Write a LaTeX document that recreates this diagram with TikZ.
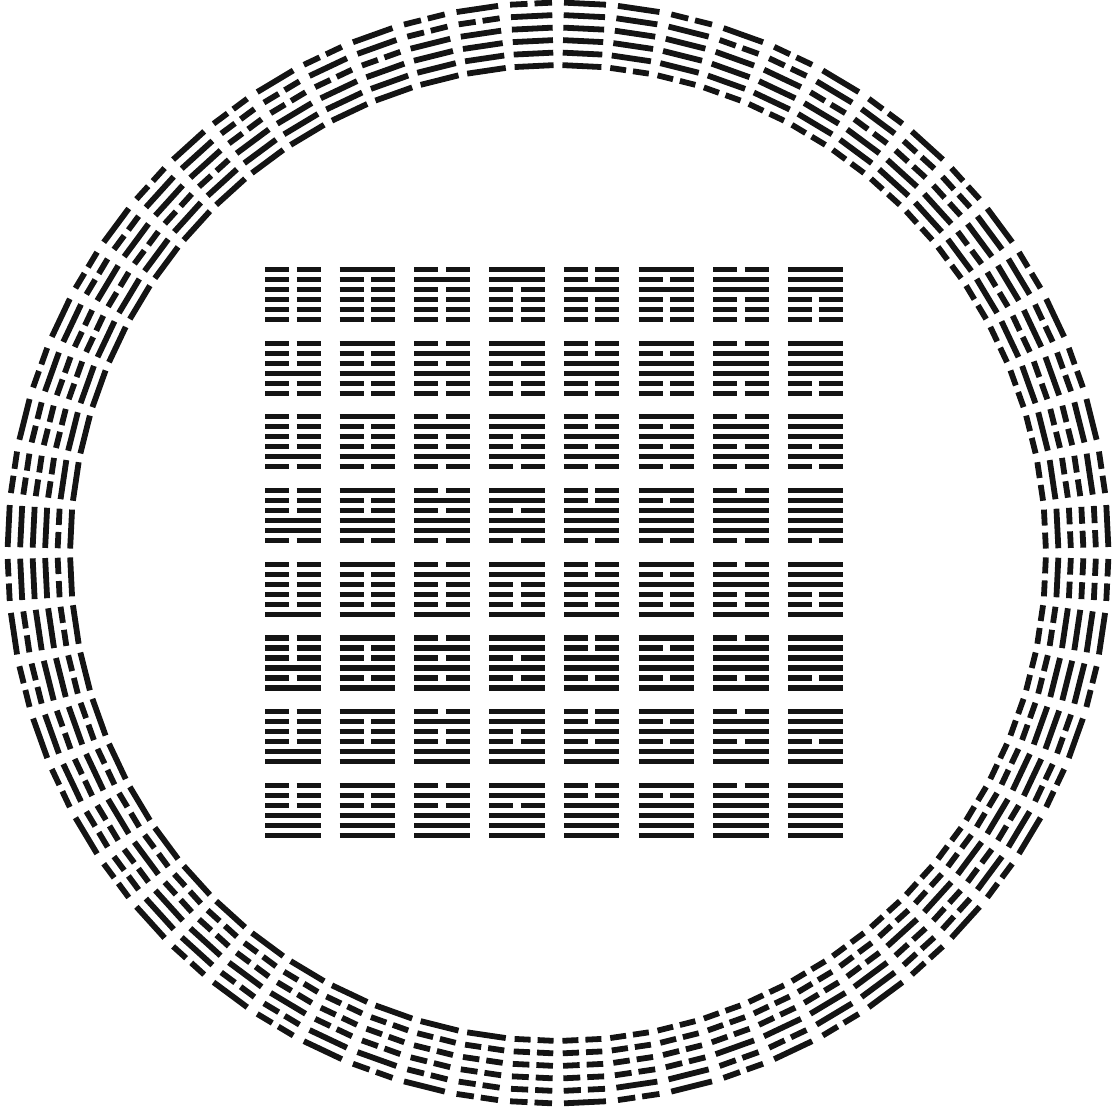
\documentclass[tikz,border=0pt]{standalone}
\usepackage{tikz}
\tikzset{
  yaoline/.style={line width=5.2pt, line cap=butt, draw=black!92},
  ringline/.style={line width=5.8pt, line cap=butt, draw=black!92},
}
\begin{document}
\begin{tikzpicture}[x=1pt,y=1pt]
\useasboundingbox (0,0) rectangle (1118,1107);
% ---------- ring of 64 hexagrams ----------
\foreach \k in {0,...,63}{
  \pgfmathtruncatemacro{\n}{\k<32 ? 63-\k : \k-32}
  \pgfmathsetmacro{\th}{87.1875+5.625*\k-90}
  \begin{scope}[shift={(558,554)}, rotate=\th]
  \foreach \i in {1,...,6}{
    \pgfmathtruncatemacro{\b}{mod(floor(\n/2^(6-\i)),2)}
    \pgfmathsetmacro{\R}{487.5+12.5*(\i-1)}
    \pgfmathsetmacro{\L}{19.5+0.3*(\i-1)}
    \ifnum\b=1
      \draw[ringline] (-\L,\R) -- (\L,\R);
    \else
      \draw[ringline] (-\L,\R) -- (-3.5,\R);
      \draw[ringline] (3.5,\R) -- (\L,\R);
    \fi
  }
  \end{scope}
}
% ---------- square of 64 hexagrams ----------
\foreach \r in {0,...,7}{
  \foreach \c in {0,...,7}{
    \pgfmathtruncatemacro{\n}{8*\r+\c}
    \pgfmathsetmacro{\xa}{265+74.7*\c}
    \pgfmathsetmacro{\xb}{\xa+55.5}
    \pgfmathsetmacro{\xm}{\xa+24}
    \pgfmathsetmacro{\xn}{\xa+31.5}
    \foreach \i in {1,...,6}{
      \pgfmathtruncatemacro{\b}{mod(floor(\n/2^(6-\i)),2)}
      \pgfmathsetmacro{\yy}{1107-(269.5+73.7*\r+10*(6-\i))}
      \ifnum\b=1
        \draw[yaoline] (\xa,\yy) -- (\xb,\yy);
      \else
        \draw[yaoline] (\xa,\yy) -- (\xm,\yy);
        \draw[yaoline] (\xn,\yy) -- (\xb,\yy);
      \fi
    }
  }
}
\end{tikzpicture}
\end{document}
